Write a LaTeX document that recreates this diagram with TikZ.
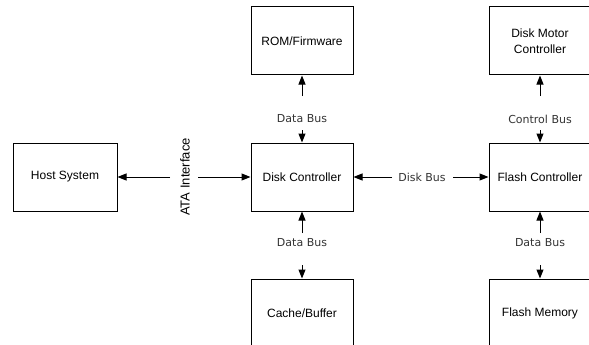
\documentclass[tikz,border=0pt]{standalone}
\usepackage{fontspec}
\setmainfont{Liberation Sans}
\newfontfamily\busfont{DejaVu Sans}
\usetikzlibrary{arrows.meta}
\tikzset{
  block/.style={draw, line width=1pt, minimum width=102pt, minimum height=68pt,
    align=center, font=\fontsize{12}{16}\selectfont, inner sep=0pt},
  buslabel/.style={font=\busfont\fontsize{11}{13}\selectfont, text=black!80, inner sep=0pt},
  bus/.style={->, line width=1pt}
}
\begin{document}
\begin{tikzpicture}[x=1pt, y=-1pt, >={Triangle[length=9pt,width=7pt]}]
\useasboundingbox (0,0) rectangle (589,345);
% Blocos
\node[block, minimum width=104pt] (host) at (65,177) {Host System};
\node[block] (disk) at (302,177) {Disk Controller};
\node[block] (flash) at (540,177) {Flash Controller};
\node[block] (rom) at (302,41) {ROM/Firmware};
\node[block] (motor) at (540,41) {Disk Motor\\Controller};
\node[block] (cache) at (302,313) {Cache/Buffer};
\node[block] (mem) at (540,313) {Flash Memory};
% Interface ATA
\node[rotate=90, font=\fontsize{13}{15}\selectfont, inner sep=0pt] (ata) at (185,177) {ATA Interface};
\coordinate (ataL) at (170,177);
\coordinate (ataR) at (198,177);
\draw[bus] (ataL) -- (host);
\draw[bus] (ataR) -- (disk);
% Disk Bus
\node[buslabel] (diskbus) at (422,177) {Disk Bus};
\coordinate (dbL) at (392,177);
\coordinate (dbR) at (453,177);
\draw[bus] (dbL) -- (disk);
\draw[bus] (dbR) -- (flash);
% Barramentos superiores
\node[buslabel] (romdata) at (302,119) {Data Bus};
\coordinate (romA) at (302,96);
\coordinate (romB) at (302,130);
\draw[bus] (romA) -- (rom);
\draw[bus] (romB) -- (disk);
\node[buslabel] (ctrlbus) at (540,119) {Control Bus};
\coordinate (ctrlA) at (540,96);
\coordinate (ctrlB) at (540,130);
\draw[bus] (ctrlA) -- (motor);
\draw[bus] (ctrlB) -- (flash);
% Barramentos inferiores
\node[buslabel] (cachedata) at (302,243) {Data Bus};
\coordinate (cacheA) at (302,233);
\coordinate (cacheB) at (302,265);
\draw[bus] (cacheA) -- (disk);
\draw[bus] (cacheB) -- (cache);
\node[buslabel] (memdata) at (540,243) {Data Bus};
\coordinate (memA) at (540,233);
\coordinate (memB) at (540,265);
\draw[bus] (memA) -- (flash);
\draw[bus] (memB) -- (mem);
\end{tikzpicture}
\end{document}
